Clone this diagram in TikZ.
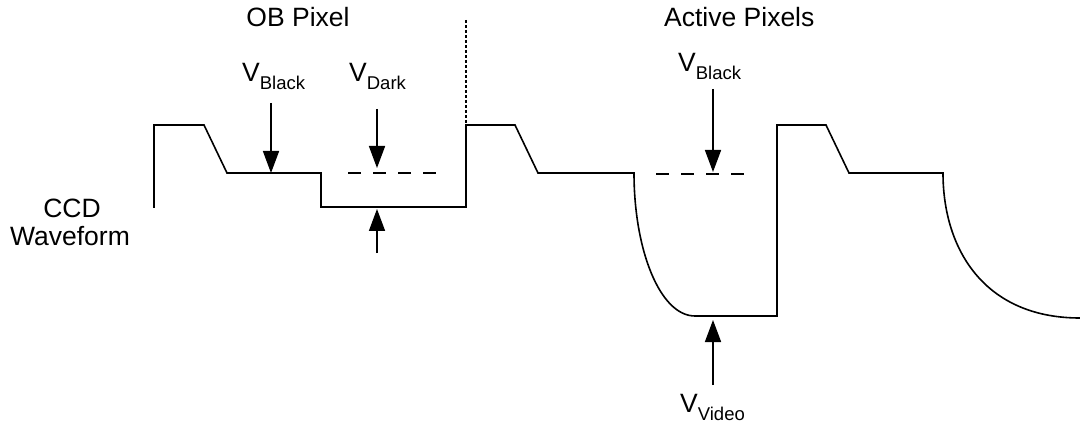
\documentclass[tikz,border=0pt]{standalone}
\usepackage{fontspec}
\setmainfont{Liberation Sans}
\usepackage{tikz}
\usetikzlibrary{arrows.meta,positioning}

\newcommand{\vsig}[1]{V\raisebox{-8pt}{\fontsize{18.5}{18.5}\selectfont #1}}

\begin{document}
\begin{tikzpicture}[x=1pt,y=-1pt,
    wave/.style={line width=1.6pt},
    marker/.style={line width=1.6pt,-{Triangle[length=22pt,width=16pt]}},
    level/.style={line width=1.6pt,dash pattern=on 13pt off 12pt},
    txt/.style={font=\fontsize{26.5}{30}\selectfont,inner sep=0pt}]
    \useasboundingbox (0,0) rectangle (1080,425);

    % titles and labels
    \node[txt,anchor=base] (obtitle) at (298,27) {OB Pixel};
    \node[txt,anchor=base west] (acttitle) at (664,27) {Active Pixels};
    \node[txt,anchor=base] (ccd) at (72,218) {CCD};
    \node[txt,anchor=base] (waveform) at (70,246) {Waveform};
    \node[txt,anchor=base west] (obblack) at (242,82) {\vsig{Black}};
    \node[txt,anchor=base west] (obdark) at (349,82) {\vsig{Dark}};
    \node[txt,anchor=base west] (actblack) at (678,72) {\vsig{Black}};
    \node[txt,anchor=base west] (actvideo) at (680,412) {\vsig{Video}};

    % waveform
    \draw[wave] (154,208) -- (154,125) -- (204,125) -- (227,173) -- (321,173)
        -- (321,207) -- (466,207) -- (466,125) -- (515,125) -- (538,173) -- (634,173)
        .. controls (634,250) and (660,316) .. (695,316) -- (777,316) -- (777,125)
        -- (826,125) -- (849,173) -- (943,173)
        .. controls (943,250) and (985,318) .. (1080,318);

    % separator between OB and active pixels
    \coordinate (sep-top) at (466,20);
    \coordinate (sep-bot) at (466,125);
    \draw[line width=1.2pt,dash pattern=on 3pt off 2pt] (sep-top) -- (sep-bot);

    % reference levels
    \coordinate (oblevel-l) at (348,173);
    \coordinate (oblevel-r) at (441,173);
    \coordinate (actlevel-l) at (656,174);
    \coordinate (actlevel-r) at (749,174);
    \draw[level] (oblevel-l) -- (oblevel-r);
    \draw[level] (actlevel-l) -- (actlevel-r);

    % arrows
    \coordinate (obblack-top) at (271,103);
    \coordinate (obblack-tip) at (271,173);
    \coordinate (obdark-top) at (377,109);
    \coordinate (obdark-tip) at (377,168);
    \coordinate (obdark-bot) at (377,253);
    \coordinate (obdark-up) at (377,209);
    \coordinate (actblack-top) at (713,89);
    \coordinate (actblack-tip) at (713,172);
    \coordinate (actvideo-bot) at (713,385);
    \coordinate (actvideo-tip) at (713,320);
    \draw[marker] (obblack-top) -- (obblack-tip);
    \draw[marker] (obdark-top) -- (obdark-tip);
    \draw[marker] (obdark-bot) -- (obdark-up);
    \draw[marker] (actblack-top) -- (actblack-tip);
    \draw[marker] (actvideo-bot) -- (actvideo-tip);
\end{tikzpicture}
\end{document}
